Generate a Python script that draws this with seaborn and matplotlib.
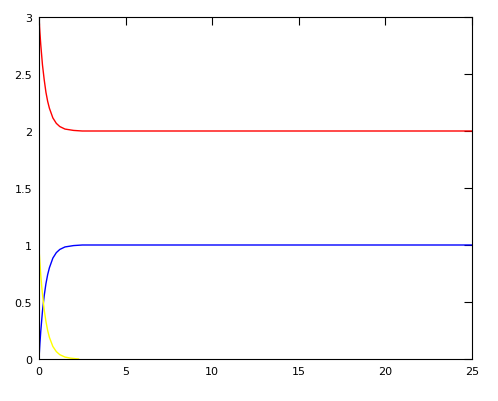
import matplotlib
matplotlib.use("Agg")
import pandas as pd
import matplotlib.pyplot as plt
import seaborn as sns

# values
t = [0, 0.05, 0.1, 0.15, 0.2, 0.3, 0.4, 0.5, 0.6, 0.8, 1.0, 1.2, 1.5, 2.0, 2.5, 3.0, 25]
red = [3.0, 2.87, 2.76, 2.67, 2.58, 2.45, 2.34, 2.26, 2.20, 2.115, 2.067, 2.039, 2.017, 2.005, 2.0, 2.0, 2.0]
blue = [0.0, 0.13, 0.24, 0.33, 0.42, 0.555, 0.66, 0.74, 0.80, 0.885, 0.933, 0.961, 0.983, 0.995, 1.0, 1.0, 1.0]
t_y = [0, 0.05, 0.1, 0.15, 0.2, 0.3, 0.4, 0.5, 0.6, 0.8, 1.0, 1.2, 1.5, 1.8, 2.1, 2.3]
yellow = [0.97, 0.85, 0.74, 0.65, 0.57, 0.43, 0.33, 0.25, 0.19, 0.11, 0.065, 0.038, 0.017, 0.008, 0.003, 0.0]

df = pd.DataFrame({"t": t, "red": red, "blue": blue})
dfy = pd.DataFrame({"t": t_y, "yellow": yellow})

sns.set_style("white")
plt.rcParams['font.family'] = ['DejaVu Sans']

fig = plt.figure(figsize=(4.98, 4.02), dpi=100)
ax = fig.add_axes([39 / 498, 1 - 360 / 402, 433 / 498, 342 / 402])

sns.lineplot(data=df, x="t", y="red", color="red", linewidth=1, ax=ax)
sns.lineplot(data=df, x="t", y="blue", color="blue", linewidth=1, ax=ax)
sns.lineplot(data=dfy, x="t", y="yellow", color="yellow", linewidth=1, ax=ax)

ax.set_xlim(0, 25)
ax.set_ylim(0, 3)
ax.set_xticks([0, 5, 10, 15, 20, 25])
ax.set_yticks([0, 0.5, 1, 1.5, 2, 2.5, 3])
ax.set_yticklabels(["0", "0.5", "1", "1.5", "2", "2.5", "3"])
ax.set_xlabel("")
ax.set_ylabel("")
ax.tick_params(direction="in", length=6, width=0.8, top=True, right=True,
               labelsize=8, colors="black", pad=5)
for s in ax.spines.values():
    s.set_color("black")
    s.set_linewidth(0.8)

fig.savefig("out.png", dpi=100)
